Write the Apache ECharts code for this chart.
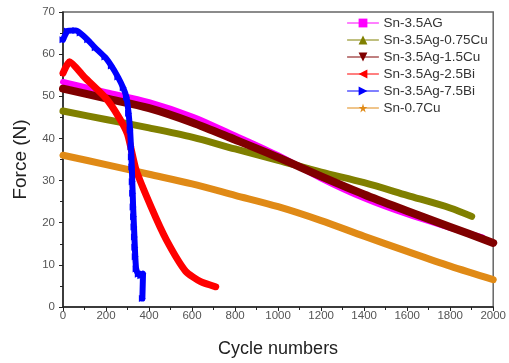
<!DOCTYPE html>
<html>
<head>
<meta charset="utf-8">
<script src="https://cdn.jsdelivr.net/npm/echarts@6/dist/echarts.min.js"></script>
<style>
  html, body { margin: 0; padding: 0; background: #fff; }
  #main { width: 509px; height: 363px; }
</style>
</head>
<body>
<div id="main"></div>
<script>
// values: [cycle, force]
const sn35ag = [[0,53.4],[200,51],[400,48.6],[600,45.2],[800,40.7],[1000,36],[1200,30.5],[1400,25.8],[1600,22],[1800,18.8],[1950,16.5]];
const sn35ag075cu = [[0,46.5],[200,44.5],[400,42.5],[600,40.3],[800,37.5],[1000,34.8],[1200,32],[1400,29.5],[1600,26.5],[1800,23.5],[1900,21.5]];
const sn35ag15cu = [[0,51.8],[200,49.5],[400,47.2],[600,43.8],[800,39.7],[1000,35.5],[1200,31],[1400,26.7],[1600,22.8],[1800,19],[2000,15.2]];
const sn35ag25bi = [[0,55.5],[30,58.2],[100,54.5],[200,49.5],[260,45],[300,41],[340,32.5],[410,23.7],[480,16],[570,8.5],[640,6],[710,4.8]];
const sn35ag75bi = [[0,63.4],[20,65.5],[60,65.6],[80,65],[115,63.4],[150,61.5],[195,59.3],[225,57.2],[255,54.6],[280,52],[295,49.8],[305,46],[312,42],
  [316,38],[318,35.6],[320,33.2],[322,29.7],[324,27],[326,23.7],[328,21.4],[330,19],[332,16.6],[334,14.2],[336,11.9],[340,9],[350,7.8],[362,7.4],[372,7.9],[369,2]];
const sn07cu = [[0,36],[200,33.8],[400,31.5],[600,29.2],[800,26.5],[1000,23.8],[1200,20.5],[1400,16.8],[1600,13.2],[1800,9.7],[2000,6.5]];

const names = ['Sn-3.5AG', 'Sn-3.5Ag-0.75Cu', 'Sn-3.5Ag-1.5Cu', 'Sn-3.5Ag-2.5Bi', 'Sn-3.5Ag-7.5Bi', 'Sn-0.7Cu'];
const colors = ['#ff00ff', '#808000', '#800000', '#ff0000', '#0000ff', '#e08a16'];
const star = 'path://M50,0 L61,35 L98,35 L68,57 L79,91 L50,70 L21,91 L32,57 L2,35 L39,35 Z';

const mk = (name, data, color, symbol, rot, width, z, dots, smooth) => ({
  name: name,
  type: 'line',
  data: data,
  z: z,
  smooth: smooth,
  symbol: symbol,
  symbolRotate: rot,
  symbolSize: width + 1,
  showSymbol: dots,
  lineStyle: { color: color, width: width, cap: 'round', join: 'round' },
  itemStyle: { color: color },
  emphasis: { disabled: true },
  animation: false
});

const chart = echarts.init(document.getElementById('main'));
chart.setOption({
  backgroundColor: '#fff',
  textStyle: { fontFamily: 'Liberation Sans, Arial, sans-serif' },
  grid: {
    left: 63, right: 12, top: 12, bottom: 56,
    show: true, borderColor: '#666', borderWidth: 1.5
  },
  legend: {
    orient: 'vertical',
    left: 342, top: 11,
    itemWidth: 31, itemHeight: 11, itemGap: 3,
    data: names,
    textStyle: { fontSize: 13.5, color: '#333' },
    lineStyle: { width: 1 }
  },
  xAxis: {
    type: 'value', min: 0, max: 2000, interval: 200,
    name: 'Cycle numbers', nameLocation: 'middle', nameGap: 33,
    nameTextStyle: { fontSize: 18, color: '#222' },
    axisLine: { lineStyle: { color: '#222', width: 1.5 } },
    axisTick: { length: 4, lineStyle: { color: '#222' } },
    minorTick: { show: true, splitNumber: 2, length: 3, lineStyle: { color: '#222' } },
    axisLabel: { fontSize: 11.5, color: '#555', margin: 3, formatter: v => String(v) },
    splitLine: { show: false }
  },
  yAxis: {
    type: 'value', min: 0, max: 70, interval: 10,
    name: 'Force (N)', nameLocation: 'middle', nameGap: 33,
    nameTextStyle: { fontSize: 19, color: '#222' },
    axisLine: { show: true, lineStyle: { color: '#222', width: 1.5 } },
    axisTick: { show: true, length: 4, lineStyle: { color: '#222' } },
    minorTick: { show: true, splitNumber: 2, length: 3, lineStyle: { color: '#222' } },
    axisLabel: { fontSize: 11.5, color: '#555', margin: 8 },
    splitLine: { show: false }
  },
  series: [
    mk(names[0], sn35ag, colors[0], 'rect', 0, 6, 3, false, 0.3),
    mk(names[1], sn35ag075cu, colors[1], 'triangle', 0, 7, 4, false, 0.3),
    mk(names[2], sn35ag15cu, colors[2], 'triangle', 180, 8, 5, false, 0.3),
    mk(names[3], sn35ag25bi, colors[3], 'triangle', 90, 7, 6, false, 0.2),
    mk(names[4], sn35ag75bi, colors[4], 'triangle', -90, 6, 7, true, 0.1),
    mk(names[5], sn07cu, colors[5], star, 0, 7, 2, false, 0.3)
  ]
});
</script>
</body>
</html>
